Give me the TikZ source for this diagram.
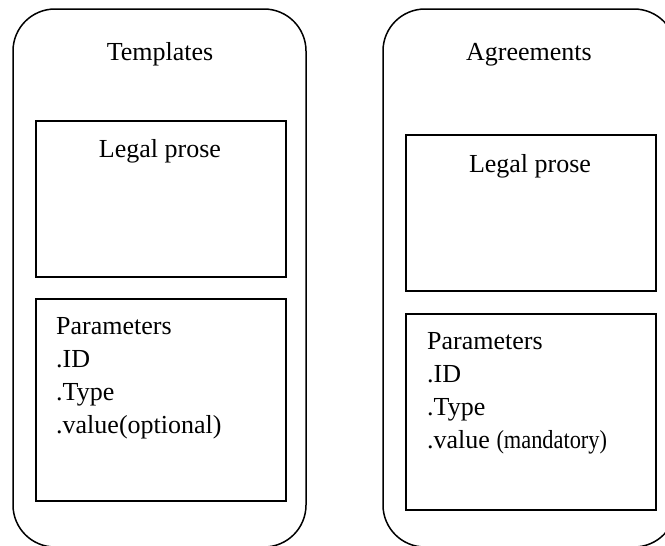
\documentclass[tikz,border=0pt]{standalone}
\usepackage{fontspec}
\setmainfont{Liberation Serif}
\usetikzlibrary{positioning}
\tikzstyle{frame}=[draw, line width=1.5pt, rounded corners=42pt, minimum width=293pt, minimum height=538pt]
\tikzstyle{box}=[draw, line width=1.5pt, minimum width=250pt]
\tikzstyle{txt}=[font=\fontsize{26}{33}\selectfont, inner sep=0pt, anchor=base]
\begin{document}
\begin{tikzpicture}[x=1pt,y=-1pt]
            \useasboundingbox (0,0) rectangle (665,546);
            % outer frames
            \node (T) [frame] at (159.5,278) {};
            \node (A) [frame] at (529.5,278) {};
            % inner boxes
            \node (TL) [box, minimum height=156pt] at (161,199) {};
            \node (TP) [box, minimum height=202pt] at (161,400) {};
            \node (AL) [box, minimum height=156pt] at (531,213) {};
            \node (AP) [box, minimum height=196pt] at (531,412) {};
            % titles
            \node (Tt) [txt] at (160,60) {Templates};
            \node (At) [txt] at (529,60) {Agreements};
            \node (TLt) [txt] at (160,157) {Legal prose};
            \node (ALt) [txt] at (530,172) {Legal prose};
            % parameter lists
            \foreach \t [count=\i from 0] in {Parameters,.ID,.Type,.value(optional)}
              \node (TP-\i) [txt, anchor=base west] at (56,334+33*\i) {\t};
            \foreach \t [count=\i from 0] in {Parameters,.ID,.Type,{.value \scalebox{0.86}[1]{(mandatory)}}}
              \node (AP-\i) [txt, anchor=base west] at (427,349+33*\i) {\t};
\end{tikzpicture}
\end{document}
